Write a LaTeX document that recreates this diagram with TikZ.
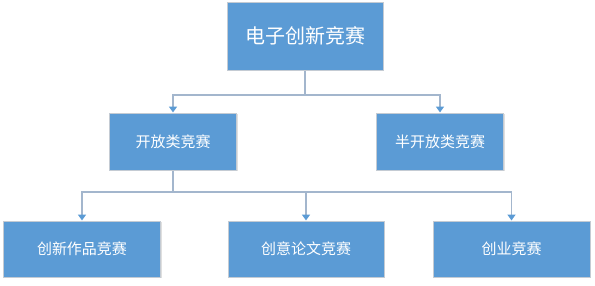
\documentclass[tikz,border=0pt]{standalone}
\usepackage{fontspec}
\setmainfont{Noto Sans CJK SC}
\usetikzlibrary{positioning,arrows.meta,shadows}
\definecolor{boxblue}{HTML}{5B9BD5}
\definecolor{boxedge}{HTML}{C4CBD3}
\definecolor{linkgray}{HTML}{A3B6CD}
\tikzset{
  box/.style={draw=boxedge, line width=1pt, fill=boxblue, text=white,
    inner sep=0pt, font=\fontsize{15}{18}\selectfont,
    drop shadow={shadow xshift=1pt, shadow yshift=-1pt, opacity=.25}},
  link/.style={draw=linkgray, line width=1.5pt},
  linkarrow/.style={link, -{Triangle[length=6pt,width=8pt,color=boxblue]}}
}

\begin{document}
\begin{tikzpicture}[x=1pt,y=-1pt]
  \useasboundingbox (0,0) rectangle (595,285);
  % levels
  \node[box, minimum width=156pt, minimum height=68pt, font=\fontsize{20}{24}\selectfont] (contest) at (305,36) {电子创新竞赛};
  \node[box, minimum width=127pt, minimum height=57pt] (open) at (173,141.5) {开放类竞赛};
  \node[box, minimum width=127pt, minimum height=57pt] (semiopen) at (440,141.5) {半开放类竞赛};
  \node[box, minimum width=157pt, minimum height=56pt] (works) at (82,249) {创新作品竞赛};
  \node[box, minimum width=156pt, minimum height=56pt] (paper) at (306,249) {创意论文竞赛};
  \node[box, minimum width=157pt, minimum height=56pt] (startup) at (511.5,249) {创业竞赛};
  % connectors
  \coordinate (forktop) at (305,95);
  \coordinate (forkopen) at (173,192);
  \draw[link] (contest.south) -- (forktop);
  \draw[linkarrow] (forktop) -| (open.north);
  \draw[linkarrow] (forktop) -| (semiopen.north);
  \draw[link] (open.south) -- (forkopen);
  \draw[linkarrow] (forkopen) -| (works.north);
  \draw[linkarrow] (forkopen) -| (paper.north);
  \draw[linkarrow] (forkopen) -| (startup.north);
\end{tikzpicture}
\end{document}
